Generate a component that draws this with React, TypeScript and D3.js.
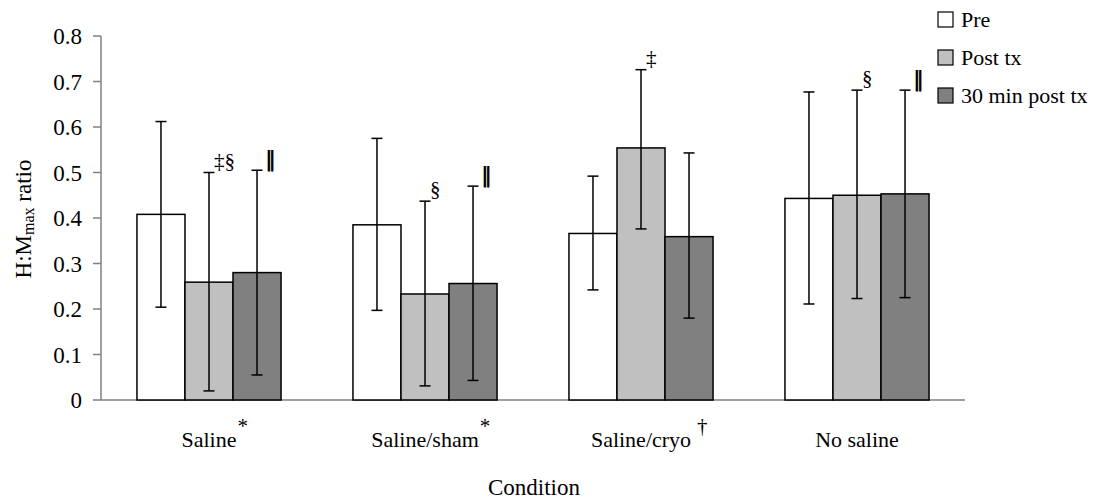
import React, { useEffect, useRef } from "react";
import * as d3 from "d3";

const categories = ["Saline", "Saline/sham", "Saline/cryo", "No saline"];
const categoryMarks = ["*", "*", "†", ""];
const seriesNames = ["Pre", "Post tx", "30 min post tx"];
const seriesColors = ["#ffffff", "#c0c0c0", "#808080"];
const preValues = [0.408, 0.385, 0.366, 0.443];
const postValues = [0.259, 0.233, 0.554, 0.45];
const min30Values = [0.28, 0.256, 0.359, 0.453];
const preErrLow = [0.204, 0.197, 0.242, 0.211];
const preErrHigh = [0.612, 0.575, 0.492, 0.677];
const postErrLow = [0.02, 0.031, 0.376, 0.223];
const postErrHigh = [0.5, 0.437, 0.726, 0.681];
const min30ErrLow = [0.055, 0.043, 0.18, 0.225];
const min30ErrHigh = [0.505, 0.47, 0.543, 0.681];
const postNotes = ["‡§", "§", "‡", "§"];
const min30Notes = ["‖", "‖", "", "‖"];
const yTicks = [0, 0.1, 0.2, 0.3, 0.4, 0.5, 0.6, 0.7, 0.8];

const FONT = "Liberation Serif, DejaVu Serif, serif";

export default function App() {
  const ref = useRef<SVGSVGElement>(null);

  useEffect(() => {
    const svg = d3.select(ref.current);
    svg.selectAll("*").remove();
    const W = 1102, H = 501;
    const left = 101, right = 965, top = 36, bottom = 400;

    const x0 = d3.scaleBand<string>().domain(categories).range([left, right]).paddingInner(0.333).paddingOuter(0.1665);
    const x1 = d3.scaleBand<string>().domain(seriesNames).range([0, x0.bandwidth()]);
    const y = d3.scaleLinear().domain([0, 0.8]).range([bottom, top]);

    const values = [preValues, postValues, min30Values];
    const lows = [preErrLow, postErrLow, min30ErrLow];
    const highs = [preErrHigh, postErrHigh, min30ErrHigh];
    const notes = [categories.map(() => ""), postNotes, min30Notes];

    const txt = (sel: any) => sel.style("font-family", FONT).attr("fill", "#000");

    // axis
    const g = svg.append("g");
    g.append("line").attr("x1", left).attr("x2", left).attr("y1", y(0.8)).attr("y2", y(0))
      .attr("stroke", "#808080").attr("stroke-width", 1.5);
    g.append("line").attr("x1", left).attr("x2", right).attr("y1", y(0)).attr("y2", y(0))
      .attr("stroke", "#808080").attr("stroke-width", 1.5);
    yTicks.forEach((t) => {
      g.append("line").attr("x1", left - 8).attr("x2", left).attr("y1", y(t)).attr("y2", y(t))
        .attr("stroke", "#808080").attr("stroke-width", 1.5);
      txt(g.append("text")).attr("x", left - 19).attr("y", y(t)).attr("dy", "0.36em")
        .attr("text-anchor", "end").style("font-size", "23px")
        .text(String(t));
    });

    // bars
    categories.forEach((c, ci) => {
      seriesNames.forEach((s, si) => {
        const bx = (x0(c) as number) + (x1(s) as number);
        const bw = x1.bandwidth();
        const v = values[si][ci];
        svg.append("rect").attr("x", bx).attr("y", y(v)).attr("width", bw).attr("height", y(0) - y(v))
          .attr("fill", seriesColors[si]).attr("stroke", "#000").attr("stroke-width", 1.5);
      });
      seriesNames.forEach((s, si) => {
        const cx = (x0(c) as number) + (x1(s) as number) + x1.bandwidth() / 2;
        const lo = y(lows[si][ci]);
        const hi = y(highs[si][ci]);
        const eg = svg.append("g").attr("stroke", "#000").attr("stroke-width", 1.5);
        eg.append("line").attr("x1", cx).attr("x2", cx).attr("y1", lo).attr("y2", hi);
        eg.append("line").attr("x1", cx - 5.5).attr("x2", cx + 5.5).attr("y1", lo).attr("y2", lo);
        eg.append("line").attr("x1", cx - 5.5).attr("x2", cx + 5.5).attr("y1", hi).attr("y2", hi);
        const note = notes[si][ci];
        if (note) {
          const isBar = note === "‖";
          const t = svg.append("text").attr("x", cx + (isBar ? 8 : 5)).attr("y", hi - (isBar ? 4 : 5))
            .attr("fill", "#000").text(note);
          if (isBar) {
            t.style("font-family", "DejaVu Sans, sans-serif").style("font-size", "21px").style("font-weight", "bold");
          } else {
            t.style("font-family", FONT).style("font-size", "21px");
          }
        }
      });
      // category label
      const gx = (x0(c) as number) + x0.bandwidth() / 2;
      const lbl = txt(svg.append("text")).attr("x", gx).attr("y", 447).attr("text-anchor", "middle")
        .style("font-size", "22px").text(c);
      const w = (lbl.node() as SVGTextElement).getComputedTextLength();
      if (categoryMarks[ci]) {
        txt(svg.append("text")).attr("x", gx + w / 2 + (categoryMarks[ci] === "†" ? 6 : 1)).attr("y", 433)
          .style("font-size", "21px").text(categoryMarks[ci]);
      }
    });

    // axis titles
    txt(svg.append("text")).attr("x", (left + right) / 2 + 1).attr("y", 495).attr("text-anchor", "middle")
      .style("font-size", "23px").text("Condition");
    const yt = txt(svg.append("text")).attr("transform", `translate(31, ${(top + bottom) / 2 + 1}) rotate(-90)`)
      .attr("text-anchor", "middle").style("font-size", "23px");
    yt.append("tspan").text("H:M");
    yt.append("tspan").style("font-size", "16px").attr("dy", 3).text("max");
    yt.append("tspan").attr("dy", -3).text(" ratio");

    // legend
    seriesNames.forEach((s, si) => {
      const ly = 19 + si * 38;
      svg.append("rect").attr("x", 938).attr("y", ly - 7).attr("width", 15).attr("height", 15)
        .attr("fill", seriesColors[si]).attr("stroke", "#000").attr("stroke-width", 1.2);
      txt(svg.append("text")).attr("x", 961).attr("y", ly).attr("dy", "0.36em")
        .style("font-size", "22px").text(s);
    });

    svg.attr("width", W).attr("height", H);
  }, []);

  return (
    <svg ref={ref} width={1102} height={501}
      style={{ position: "absolute", left: 0, top: 0, background: "#fff" }} />
  );
}
